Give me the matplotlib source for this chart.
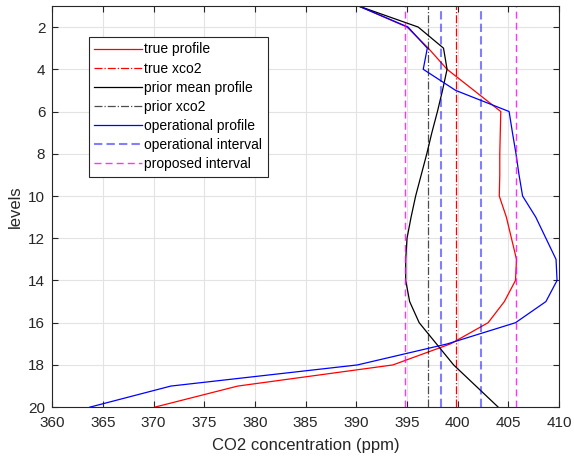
import numpy as np
import matplotlib
matplotlib.use('Agg')
from matplotlib import pyplot as plt

# vertical levels (1 = top of profile)
levels = np.arange(1, 21)

# CO2 profiles (ppm)
true_profile = [390.2, 395.0, 397.1, 398.95, 401.6, 404.25, 404.2, 404.15, 404.15, 404.1,
                404.8, 405.3, 405.8, 405.7, 404.6, 403.0, 399.3, 393.6, 378.3, 370.1]
prior_profile = [390.2, 396.1, 398.6, 398.95, 398.5, 398.0, 397.45, 396.95, 396.4, 395.85,
                 395.4, 395.0, 394.87, 394.87, 395.26, 396.2, 397.9, 399.6, 401.8, 404.0]
operational_profile = [390.2, 395.1, 397.0, 396.6, 399.8, 405.07, 405.4, 405.75, 406.05, 406.4,
                       407.7, 408.7, 409.7, 409.8, 408.7, 405.7, 399.0, 390.1, 371.7, 363.7]

# column values and intervals
true_xco2 = 399.8
prior_xco2 = 397.1
operational_interval = [398.35, 402.3]
proposed_interval = [394.8, 405.75]

x_ticks = np.arange(360, 411, 5)
y_ticks = np.arange(2, 21, 2)

plt.rcParams['font.family'] = ['Liberation Sans', 'DejaVu Sans']

fig = plt.figure(figsize=(5.74, 4.57), dpi=100)
ax = fig.add_axes([0.091, 0.109, 0.883, 0.878])

ax.plot(true_profile, levels, color='red', lw=0.9, label='true profile')
ax.axvline(true_xco2, color='red', ls='-.', lw=0.9, label='true xco2')
ax.plot(prior_profile, levels, color='black', lw=0.9, label='prior mean profile')
ax.axvline(prior_xco2, color='black', ls='-.', lw=0.9, alpha=0.7, label='prior xco2')
ax.plot(operational_profile, levels, color='blue', lw=0.9, label='operational profile')
for i, v in enumerate(operational_interval):
    ax.axvline(v, color='blue', ls=(0, (4, 2)), lw=1.5, alpha=0.5,
               label='operational interval' if i == 0 else None)
for i, v in enumerate(proposed_interval):
    ax.axvline(v, color='magenta', ls=(0, (5, 3)), lw=1.0, alpha=0.8,
               label='proposed interval' if i == 0 else None)

ax.set_xlim(360, 410)
ax.set_ylim(20, 1)
ax.set_xticks(x_ticks)
ax.set_yticks(y_ticks)
ax.grid(True, color='#e3e3e3', lw=0.8)
ax.set_axisbelow(True)
ax.tick_params(direction='in', top=True, right=True, labelsize=11, colors='#262626',
               length=4, width=0.8)
ax.tick_params(axis='x', pad=6)
ax.tick_params(axis='y', pad=5)
for s in ax.spines.values():
    s.set_color('#262626')
    s.set_linewidth(0.8)

ax.set_xlabel('CO2 concentration (ppm)', fontsize=12, color='#262626', labelpad=6)
ax.set_ylabel('levels', fontsize=12, color='#262626', labelpad=4)

leg = ax.legend(loc='upper left', bbox_to_anchor=(0.072, 0.923), borderaxespad=0,
                fontsize=10, fancybox=False, edgecolor='#262626', framealpha=1,
                handlelength=3.4, labelspacing=0.37, borderpad=0.4, handletextpad=0.2)
leg.get_frame().set_linewidth(0.8)

fig.savefig('out.png', dpi=100)
